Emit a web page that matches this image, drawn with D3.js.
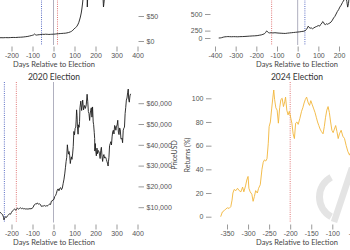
<!DOCTYPE html>
<html lang="en">
<head>
<meta charset="UTF-8">
<title>Bitcoin around US elections</title>
<script src="https://d3js.org/d3.v7.min.js"></script>
<style>
  body { margin: 0; background: #fff; }
  svg { display: block; font-family: Lato, "Open Sans", sans-serif; }
  .tick text { fill: #555; font-size: 7px; }
  .tick line { stroke: #9a9a9a; }
  .domain { display: none; }
</style>
</head>
<body>
<svg width="350" height="250"></svg>
<script>
// 2012 election, price in USD
const days2012 = [-262,-250,-240,-228,-216,-204,-192,-180,-168,-156,-144,-132,-122,-114,-106,-99,-94,-90,-87,-84,
  -80,-75,-68,-60,-52,-45,-38,-30,-22,-15,-8,0,8,16,24,32,40,48,56,64,
  72,80,86,92,98,104,110,115,120,124,128,132,135,138,141,144,148,152,155,157,
  159,161,163,166,170,175,182,190,198,206,214,222,228,233,236,238,240,243,248,255,
  265,275,290,305,320,335,350,365,380,395];
const price2012 = [6.4,6.6,6.5,6.8,6.6,6.9,7.1,7.0,7.4,7.6,8.0,8.6,9.2,10.0,10.8,11.6,12.4,14.0,12.8,12.2,
  11.8,12.3,12.6,13.0,13.4,13.2,13.6,13.4,13.1,13.3,13.5,13.6,13.9,14.3,14.6,14.9,15.1,15.4,15.6,16.2,
  17.0,18.2,19.4,21.5,24.0,26.5,28.6,32.0,36.5,42.0,48.0,56.0,64.0,74.0,86,100,125,170,215,180,
  120,68,90,110,125,115,110,120,118,105,112,100,98,92,85,68,75,88,98,105,
  112,125,120,130,150,190,230,360,700,1000];

// 2016 election, returns in %
const days2016 = [-382,-375,-368,-360,-352,-345,-338,-330,-320,-310,-300,-290,-280,-266,-255,-245,-232,-220,-208,-196,
  -186,-176,-168,-161,-156,-152,-149,-146,-142,-136,-128,-120,-110,-100,-90,-80,-70,-60,-50,-40,
  -30,-20,-10,0,10,20,30,36,42,47,51,55,60,66,72,78,85,92,100,106,
  112,118,121,125,130,135,140,145,150,156,162,168,174,180,186,192,198,204,210,217,
  224,230,234,238,242,246,250,258,270];
const return2016 = [0,15,40,70,85,90,95,92,88,92,90,86,92,95,100,105,112,118,122,128,
  140,150,165,180,205,235,245,225,210,200,205,200,205,200,196,193,190,188,195,200,
  205,210,215,220,225,232,238,248,270,300,330,310,295,300,285,300,315,325,340,330,
  360,380,400,390,360,355,368,360,370,380,395,420,450,470,500,530,551,580,600,630,
  655,665,680,640,580,620,700,760,850];

// 2020 election, price in USD
const days2020 = [-262,-255,-248,-242,-238,-236,-233,-229,-224,-219,-214,-209,-205,-200,-195,-190,-185,-180,-176,-172,
  -167,-162,-157,-152,-147,-142,-137,-132,-127,-122,-117,-112,-107,-102,-97,-93,-89,-85,-81,-78,
  -74,-70,-66,-62,-58,-54,-50,-46,-42,-38,-34,-30,-26,-22,-18,-14,-10,-6,-2,2,
  6,10,14,18,22,26,30,34,38,42,46,50,54,57,60,63,66,68,71,74,
  77,80,82,85,88,91,94,97,100,103,106,108,110,112,114,117,119,122,124,126,
  130,134,139,143,148,152,156,160,163,166,169,172,174,177,180,183,186,189,191,194,
  196,197,199,201,204,207,210,213,216,219,222,225,228,231,234,237,240,243,246,249,
  252,255,258,260,262,264,267,270,273,276,279,282,285,288,291,294,297,300,303,306,
  309,312,315,318,321,323,326,329,332,335,338,341,344,347,350,353,356,358,361,364,367];
const price2020 = [8100,7600,7000,6300,5200,3900,4600,5400,5100,5900,6300,6900,6600,7500,8300,8700,9200,8500,9000,9600,
  9100,9400,9700,9300,9500,9200,9300,9100,9200,9100,9200,9300,9200,9500,9900,11000,11200,11700,11500,12000,
  11800,11400,11600,11300,10400,10600,10400,10700,10800,10500,10700,10600,10800,11300,11500,11300,12900,13000,13600,13700,
  15200,15600,16700,18200,18800,17900,19100,19400,18400,19200,21400,23500,26400,29200,32000,34000,40000,38000,35500,36800,
  35000,31000,32500,34200,33000,35600,39200,46400,44800,47900,48500,52000,56800,54200,48900,45100,49600,48400,51100,57800,
  61000,56500,61500,56800,58900,57500,59200,64300,60900,56000,55000,51700,54300,56600,57800,53300,58200,51000,49700,46000,
  43000,37000,40600,37300,34700,38400,35700,37300,36700,35800,33400,37300,38800,34500,32000,34600,35300,33600,34200,33800,
  32900,31800,30800,29800,32100,34000,39600,40500,41500,39900,43800,46400,47000,45200,49300,48800,47000,49000,49500,51800,
  46100,44900,48100,47300,43000,42700,43200,41000,47000,48000,48500,55000,58000,61500,62500,65000,66800,62000,60500,63500,64500];

// 2024 election, returns in %
const days2024 = [-365,-361,-357,-353,-349,-345,-341,-338,-336,-333,-329,-325,-321,-317,-313,-310,-306,-303,-300,-298,
  -295,-291,-288,-285,-282,-278,-275,-271,-267,-264,-261,-258,-255,-252,-250,-247,-244,-241,-239,-237,
  -234,-231,-228,-225,-222,-219,-216,-213,-211,-208,-205,-202,-199,-196,-193,-190,-187,-184,-181,-177,
  -173,-170,-167,-164,-161,-157,-154,-151,-148,-144,-141,-138,-135,-132,-129,-126,-122,-119,-116,-113,
  -110,-107,-104,-101,-98,-95,-92,-89,-86,-83,-79,-75,-71,-67,-63,-59,-55,-50,-45,-40,
  -35,-30,-25,-20,-15,-10,-5,0];
const return2024 = [0,4,5,6.5,7.5,7,8.5,14,20,23,22,24,22,21,25,21,26,31,34,24,
  21,19,13,17,22,20,24,27,40,46,48,47,49,62,76,80,91,101,107,99,
  92,90,79,92,99,100,93,97,101,90,86,89,84,79,70,66,79,80,78,83,
  89,92,96,99,101,96,94,98,95,91,88,84,80,77,74,72,70,76,84,90,
  93,88,80,73,71,74,77,72,66,70,73,68,66,60,55,52,56,64,60,68,
  73,80,84,88,86,92,96,98];

// event markers: days relative to election
const eventDays2012 = [-57, 0, 19];
const eventKinds2012 = ["other", "election", "halving"];
const eventDays2016 = [-126, 0, 35];
const eventKinds2016 = ["halving", "election", "other"];
const eventDays2020 = [-234, -177, 0];
const eventKinds2020 = ["other", "halving", "election"];
const eventDays2024 = [-200, 0];
const eventKinds2024 = ["halving", "election"];

const xTicksWide = [-200, -100, 0, 100, 200, 300, 400];
const xTicks2016 = [-400, -300, -200, -100, 0, 100, 200];
const xTicks2024 = [-350, -300, -250, -200, -150, -100, -50, 0];

const eventStyle = {
  election: { color: "#9c9cae", dash: null, width: 0.8 },
  halving: { color: "#e07676", dash: "1,1.2", width: 1 },
  other: { color: "#5a6cc4", dash: "1,1.2", width: 1 }
};

const svg = d3.select("svg");

function drawPanel(o) {
  const g = svg.append("g");
  const x = d3.scaleLinear().domain(o.xDomain).range(o.xRange);
  const y = o.y;

  // vertical event lines
  g.selectAll("line.event")
    .data(d3.zip(o.eventDays, o.eventKinds))
    .join("line")
    .attr("class", "event")
    .attr("x1", d => x(d[0]))
    .attr("x2", d => x(d[0]))
    .attr("y1", o.top)
    .attr("y2", o.bottom)
    .attr("stroke", d => eventStyle[d[1]].color)
    .attr("stroke-width", d => eventStyle[d[1]].width)
    .attr("stroke-dasharray", d => eventStyle[d[1]].dash);

  g.append("path")
    .datum(d3.zip(o.days, o.values))
    .attr("d", d3.line().x(d => x(d[0])).y(d => y(d[1])))
    .attr("fill", "none")
    .attr("stroke", o.color)
    .attr("stroke-width", 0.9)
    .attr("stroke-linejoin", "round");

  g.append("g")
    .attr("transform", `translate(0,${o.axisY})`)
    .call(d3.axisBottom(x).tickValues(o.xTicks).tickSize(5).tickPadding(2).tickFormat(d => String(d)));

  const yAxis = o.yAxisSide === "right" ? d3.axisRight(y) : d3.axisLeft(y);
  g.append("g")
    .attr("transform", `translate(${o.yAxisX},0)`)
    .call(yAxis.tickValues(o.yTicks).tickSize(5.5).tickPadding(2.5).tickFormat(o.yFormat));

  g.append("text")
    .attr("x", o.centerX)
    .attr("y", o.axisY + 20)
    .attr("text-anchor", "middle")
    .attr("font-size", 7.5)
    .attr("fill", "#444")
    .text("Days Relative to Election");

  if (o.title) {
    g.append("text")
      .attr("x", o.centerX)
      .attr("y", o.top - 2)
      .attr("text-anchor", "middle")
      .attr("font-size", 8.5)
      .attr("fill", "#333")
      .text(o.title);
  }
}

// top left: 2012
drawPanel({
  days: days2012, values: price2012, color: "#1c1c1c",
  xDomain: [-200, 400], xRange: [11.5, 137.5], xTicks: xTicksWide,
  y: d3.scaleLinear().domain([0, 50]).range([41, 16]),
  yTicks: [0, 50], yFormat: d3.format("$,"), yAxisSide: "right", yAxisX: 138.5,
  eventDays: eventDays2012, eventKinds: eventKinds2012,
  top: -5, bottom: 45, axisY: 46.5, centerX: 54
});

// top right: 2016
drawPanel({
  days: days2016, values: return2016, color: "#1c1c1c",
  xDomain: [-400, 200], xRange: [215, 339], xTicks: xTicks2016,
  y: d3.scalePow().exponent(1.7).domain([0, 500]).range([38, 14]),
  yTicks: [0, 250, 500], yFormat: d => String(d), yAxisSide: "left", yAxisX: 210.5,
  eventDays: eventDays2016, eventKinds: eventKinds2016,
  top: -5, bottom: 45, axisY: 46.5, centerX: 297
});

// bottom left: 2020
drawPanel({
  days: days2020, values: price2020, color: "#1c1c1c", title: "2020 Election",
  xDomain: [-200, 400], xRange: [11.5, 137.5], xTicks: xTicksWide,
  y: d3.scaleLinear().domain([0, 60000]).range([228, 103.2]),
  yTicks: [10000, 20000, 30000, 40000, 50000, 60000], yFormat: d3.format("$,"),
  yAxisSide: "right", yAxisX: 138.5,
  eventDays: eventDays2020, eventKinds: eventKinds2020,
  top: 82, bottom: 222.5, axisY: 224.5, centerX: 54
});

// bottom right: 2024
drawPanel({
  days: days2024, values: return2024, color: "#f2b53a", title: "2024 Election",
  xDomain: [-350, -100], xRange: [227, 332.3], xTicks: xTicks2024,
  y: d3.scaleLinear().domain([0, 100]).range([216.7, 98.3]),
  yTicks: [0, 20, 40, 60, 80, 100], yFormat: d => String(d), yAxisSide: "left", yAxisX: 211.5,
  eventDays: eventDays2024, eventKinds: eventKinds2024,
  top: 82, bottom: 222.5, axisY: 224.5, centerX: 297
});

// y axis titles between the bottom panels
[["PriceUSD", 174.5], ["Returns (%)", 187.5]].forEach(([label, xPos]) => {
  svg.append("text")
    .attr("transform", `translate(${xPos},155) rotate(-90)`)
    .attr("text-anchor", "middle")
    .attr("dy", "0.35em")
    .attr("font-size", 7)
    .attr("fill", "#444")
    .text(label);
});

// watermark logo, partly cut off at the right edge
const mark = svg.append("g").attr("fill", "#e4e4e4").attr("stroke", "#e4e4e4");
mark.append("path")
  .attr("transform", "translate(342,197)")
  .attr("stroke", "none")
  .attr("d", d3.arc().innerRadius(19).outerRadius(26).startAngle(Math.PI * 1.16).endAngle(Math.PI * 1.84)());
mark.append("line")
  .attr("x1", 334).attr("y1", 222).attr("x2", 352).attr("y2", 168)
  .attr("stroke-width", 6.5);
</script>
</body>
</html>
